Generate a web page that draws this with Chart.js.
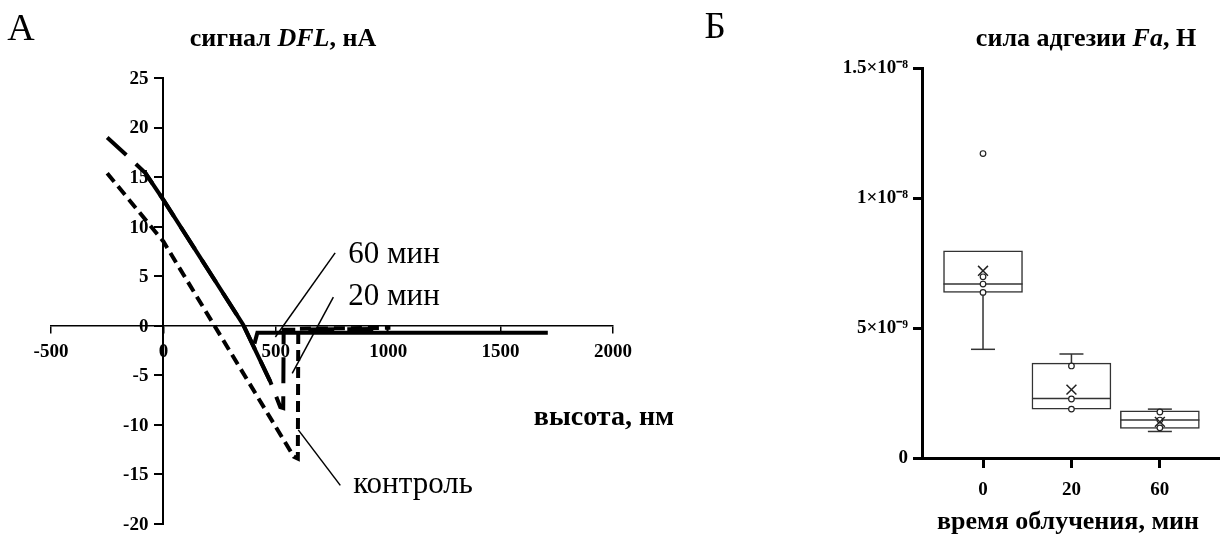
<!DOCTYPE html>
<html>
<head>
<meta charset="utf-8">
<script src="https://cdn.jsdelivr.net/npm/chart.js@4.4.0/dist/chart.umd.min.js"></script>
<style>
  body { margin: 0; background: #fff; }
  #wrap { position: relative; width: 1220px; height: 535px; font-family: "Liberation Serif", "Times New Roman", serif; color: #000; }
  canvas { position: absolute; top: 0; }
  .txt { position: absolute; white-space: nowrap; line-height: 1; transform: translate(-50%, -50%); }
  .bold { font-weight: bold; }
</style>
</head>
<body>
<div id="wrap">
  <canvas id="chartA" width="700" height="535" style="left:0"></canvas>
  <canvas id="chartB" width="520" height="535" style="left:700px"></canvas>
  <div class="txt" style="left:21px;top:27px;font-size:38px">А</div>
  <div class="txt bold" style="left:283px;top:38px;font-size:26px">сигнал <i>DFL</i>, нА</div>
  <div class="txt bold" style="left:604px;top:416px;font-size:28px">высота, нм</div>
  <div class="txt" style="left:715px;top:25px;font-size:37px">Б</div>
  <div class="txt bold" style="left:1086px;top:38px;font-size:26px">сила адгезии <i>Fa</i>, Н</div>
  <div class="txt bold" style="left:1068px;top:521px;font-size:26px">время облучения, мин</div>
</div>
<script>
  // ---- панель А: сигнал DFL от высоты ----
  const ctrlX = [-250, 0, 580, 598, 600, 1010];
  const ctrlY = [15.4, 8.5, -13.2, -13.4, -0.3, -0.2];

  const min20X = [-250, -135, -80, 0, 355, 475, 520, 533, 535, 1000];
  const min20Y = [19.0, 16.6, 15.4, 12.7, 0.1, -5.6, -8.2, -8.3, -0.4, -0.3];

  const min60X = [-80, 0, 355, 475];
  const min60Y = [15.4, 12.7, 0.1, -5.6];
  const base60X = [405, 418, 1710];
  const base60Y = [-1.8, -0.7, -0.7];

  const xTickLabelsA = ['-500', '0', '500', '1000', '1500', '2000'];
  const yTickLabelsA = ['-20', '-15', '-10', '-5', '0', '5', '10', '15', '20', '25'];

  // выноски к подписям
  const ptr60X = [764, 498], ptr60Y = [7.35, -1.13];
  const ptr20X = [756, 573], ptr20Y = [2.9, -4.8];
  const ptrCtrlX = [787, 600], ptrCtrlY = [-16.1, -10.5];
  const calloutText = ['60 мин', '20 мин', 'контроль'];
  const calloutAt = [[822, 6.3], [822, 2.1], [844, -16.9]];

  // ---- панель Б: сила адгезии ----
  const groups = ['0', '20', '60'];
  const boxQ1 = [6.37e-9, 1.88e-9, 1.14e-9];
  const boxQ3 = [7.97e-9, 3.65e-9, 1.81e-9];
  const medians = [6.69e-9, 2.29e-9, 1.46e-9];
  const whiskLo = [4.18e-9, 1.88e-9, 1.02e-9];
  const whiskHi = [7.97e-9, 4.0e-9, 1.88e-9];
  const means = [7.20e-9, 2.63e-9, 1.39e-9];
  const samples = [[6.97e-9, 6.69e-9, 6.37e-9], [3.54e-9, 2.27e-9, 1.88e-9], [1.77e-9, 1.46e-9, 1.16e-9]];
  const outliers = [[11.71e-9], [], []];
  const yLabelsB = ['0', '5×10⁻⁹', '1×10⁻⁸', '1.5×10⁻⁸'];

  Chart.defaults.font.family = '"Liberation Serif", "Times New Roman", serif';
  Chart.defaults.color = '#000';

  const tickFont = { size: 19, weight: 'bold' };

  function pts(xs, ys) {
    return xs.map((x, i) => ({ x: x, y: ys[i] }));
  }

  function curve(xs, ys, dash, width) {
    return {
      data: pts(xs, ys),
      showLine: true,
      borderColor: '#000',
      borderWidth: width,
      borderDash: dash,
      borderCapStyle: 'butt',
      pointRadius: 0,
      tension: 0,
      fill: false
    };
  }

  // подписи кривых + подписи оси Y (ось стоит в точке x = 0)
  const calloutPlugin = {
    id: 'callouts',
    afterDatasetsDraw(chart) {
      const { ctx, scales: { x, y } } = chart;
      ctx.save();
      ctx.font = '31px "Liberation Serif"';
      ctx.fillStyle = '#000';
      ctx.textBaseline = 'alphabetic';
      ctx.textAlign = 'left';
      calloutText.forEach((t, i) => {
        ctx.fillText(t, x.getPixelForValue(calloutAt[i][0]), y.getPixelForValue(calloutAt[i][1]));
      });

      ctx.font = 'bold 19px "Liberation Serif"';
      ctx.textAlign = 'right';
      ctx.textBaseline = 'middle';
      const x0 = x.getPixelForValue(0);
      y.ticks.forEach((t, i) => {
        ctx.fillText(yTickLabelsA[i], x0 - 15, y.getPixelForValue(t.value) + 1);
      });
      ctx.restore();
    }
  };

  new Chart(document.getElementById('chartA'), {
    type: 'scatter',
    data: {
      datasets: [
        curve(ctrlX, ctrlY, [11, 6], 4),
        curve(min20X, min20Y, [26, 13], 4),
        curve(min60X, min60Y, [], 4),
        curve(base60X, base60Y, [], 4),
        curve(ptr60X, ptr60Y, [], 1.5),
        curve(ptr20X, ptr20Y, [], 1.5),
        curve(ptrCtrlX, ptrCtrlY, [], 1.5)
      ]
    },
    options: {
      responsive: false,
      animation: false,
      layout: { autoPadding: false, padding: { left: 51, right: 87, top: 78, bottom: 11 } },
      plugins: { legend: { display: false }, tooltip: { enabled: false } },
      scales: {
        x: {
          type: 'linear',
          position: { y: 0 },
          min: -500, max: 2000,
          ticks: { stepSize: 500, font: tickFont, padding: 8, maxRotation: 0, callback: (v, i) => xTickLabelsA[i] },
          grid: { drawOnChartArea: false, tickLength: 7, color: '#000', lineWidth: 1.5 },
          border: { color: '#000', width: 1.5 }
        },
        y: {
          type: 'linear',
          position: { x: 0 },
          min: -20, max: 25,
          ticks: { stepSize: 5, display: false },
          grid: { drawOnChartArea: false, tickLength: 8, color: '#000', lineWidth: 2 },
          border: { color: '#000', width: 2 }
        }
      }
    },
    plugins: [calloutPlugin]
  });

  // ---- боксплот ----
  const boxData = groups.map((g, i) => ({ x: i, y: [boxQ1[i], boxQ3[i]] }));
  const whiskerData = [];
  const capData = [];
  groups.forEach((g, i) => {
    if (whiskLo[i] < boxQ1[i]) {
      whiskerData.push({ x: i, y: boxQ1[i] }, { x: i, y: whiskLo[i] }, { x: i, y: null });
      capData.push({ x: i, y: whiskLo[i] });
    }
    if (whiskHi[i] > boxQ3[i]) {
      whiskerData.push({ x: i, y: boxQ3[i] }, { x: i, y: whiskHi[i] }, { x: i, y: null });
      capData.push({ x: i, y: whiskHi[i] });
    }
  });
  const sampleData = [];
  samples.forEach((s, i) => s.forEach(v => sampleData.push({ x: i, y: v })));
  outliers.forEach((s, i) => s.forEach(v => sampleData.push({ x: i, y: v })));

  const boxColor = '#333';

  new Chart(document.getElementById('chartB'), {
    type: 'bar',
    data: {
      datasets: [
        {
          type: 'bar',
          data: boxData,
          backgroundColor: '#fff',
          borderColor: boxColor,
          borderWidth: 1.5,
          borderSkipped: false,
          barThickness: 79,
          order: 5
        },
        {
          type: 'line',
          data: whiskerData,
          borderColor: boxColor,
          borderWidth: 1.5,
          pointRadius: 0,
          spanGaps: false,
          order: 4
        },
        {
          type: 'scatter',
          data: groups.map((g, i) => ({ x: i, y: medians[i] })),
          pointStyle: 'line',
          pointRadius: 39.5,
          borderColor: boxColor,
          borderWidth: 1.5,
          order: 3
        },
        {
          type: 'scatter',
          data: capData,
          pointStyle: 'line',
          pointRadius: 12,
          borderColor: boxColor,
          borderWidth: 1.5,
          order: 3
        },
        {
          type: 'scatter',
          data: sampleData,
          pointStyle: 'circle',
          pointRadius: 2.8,
          backgroundColor: '#fff',
          borderColor: '#222',
          borderWidth: 1.2,
          order: 2
        },
        {
          type: 'scatter',
          data: groups.map((g, i) => ({ x: i, y: means[i] })),
          pointStyle: 'crossRot',
          pointRadius: 7,
          borderColor: '#222',
          borderWidth: 1.5,
          order: 1
        }
      ]
    },
    options: {
      responsive: false,
      animation: false,
      layout: { autoPadding: false, padding: { left: 0, right: 0, top: 68, bottom: 0 } },
      plugins: { legend: { display: false }, tooltip: { enabled: false } },
      scales: {
        x: {
          type: 'linear',
          min: -0.69, max: 2.68,
          offset: false,
          afterBuildTicks: s => { s.ticks = groups.map((g, i) => ({ value: i })); },
          afterFit: s => { s.height = 77; },
          ticks: { font: tickFont, padding: 11, maxRotation: 0, callback: (v, i) => groups[i] },
          grid: { offset: false, drawOnChartArea: false, tickLength: 10, color: '#000', lineWidth: 3 },
          border: { color: '#000', width: 3 }
        },
        y: {
          min: 0, max: 1.5e-8,
          afterFit: s => { s.width = 222; },
          ticks: { stepSize: 5e-9, font: tickFont, padding: 5, callback: (v, i) => yLabelsB[i] },
          grid: { drawOnChartArea: false, tickLength: 9, color: '#000', lineWidth: 3 },
          border: { color: '#000', width: 3 }
        }
      }
    }
  });
</script>
</body>
</html>
